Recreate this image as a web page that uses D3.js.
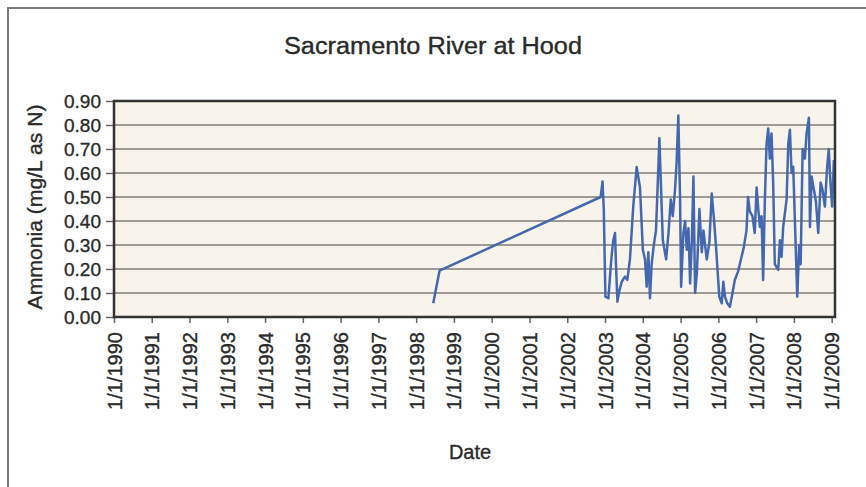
<!DOCTYPE html>
<html>
<head>
<meta charset="utf-8">
<script src="https://cdn.jsdelivr.net/npm/d3@7"></script>
<style>
  body { margin: 0; background: #fff; }
  text { font-family: "Liberation Sans", Arial, sans-serif; fill: #2a2a2a; stroke: #2a2a2a; stroke-width: 0.35px; }
</style>
</head>
<body>
<div class="chart"></div>
<script>
// ammonia readings
var dates = [
  "1998-06-15", "1998-08-15", "2002-11-20", "2002-12-08", "2002-12-20",
  "2003-01-05", "2003-02-03", "2003-02-20", "2003-03-05", "2003-03-22",
  "2003-04-08", "2003-04-17", "2003-05-01", "2003-05-20", "2003-06-12",
  "2003-07-13", "2003-08-05", "2003-08-30", "2003-10-01", "2003-11-03",
  "2003-12-05", "2004-01-02", "2004-01-23", "2004-02-08", "2004-02-24",
  "2004-03-11", "2004-03-27", "2004-04-19", "2004-05-08", "2004-05-31",
  "2004-06-10", "2004-06-24", "2004-07-13", "2004-08-14", "2004-09-06",
  "2004-09-28", "2004-10-17", "2004-11-08", "2004-11-24", "2004-12-10",
  "2004-12-27", "2005-01-06", "2005-01-28", "2005-02-14", "2005-03-02",
  "2005-03-18", "2005-04-03", "2005-04-20", "2005-05-05", "2005-05-21",
  "2005-06-07", "2005-07-02", "2005-07-25", "2005-08-10", "2005-09-11",
  "2005-10-06", "2005-10-29", "2005-11-21", "2005-12-10", "2005-12-22",
  "2006-01-10", "2006-02-03", "2006-02-18", "2006-03-06", "2006-03-28",
  "2006-04-22", "2006-05-18", "2006-06-09", "2006-07-11", "2006-08-13",
  "2006-09-04", "2006-09-30", "2006-10-15", "2006-11-01", "2006-11-27",
  "2006-12-19", "2007-01-06", "2007-01-22", "2007-02-07", "2007-02-23",
  "2007-03-10", "2007-03-27", "2007-04-12", "2007-04-28", "2007-05-14",
  "2007-05-30", "2007-06-15", "2007-07-01", "2007-08-03", "2007-08-19",
  "2007-09-04", "2007-09-20", "2007-10-23", "2007-11-08", "2007-11-24",
  "2007-12-10", "2007-12-26", "2008-01-21", "2008-02-03", "2008-02-22",
  "2008-03-07", "2008-03-26", "2008-04-17", "2008-05-03", "2008-05-26",
  "2008-06-05", "2008-06-21", "2008-07-13", "2008-08-02", "2008-08-24",
  "2008-09-16", "2008-10-05", "2008-10-27", "2008-11-18", "2008-12-04",
  "2008-12-20", "2009-01-06", "2009-01-22"
];
var ammonia = [
  0.057, 0.193, 0.50, 0.565, 0.45,
  0.085, 0.078, 0.18, 0.25, 0.32,
  0.35, 0.22, 0.064, 0.11, 0.147,
  0.168, 0.155, 0.24, 0.46, 0.625,
  0.54, 0.28, 0.24, 0.126, 0.27,
  0.078, 0.22, 0.307, 0.36, 0.626,
  0.745, 0.56, 0.32, 0.24, 0.35,
  0.49, 0.42, 0.53, 0.65, 0.84,
  0.49, 0.126, 0.35, 0.40, 0.28,
  0.37, 0.14, 0.32, 0.585, 0.10,
  0.18, 0.45, 0.27, 0.36, 0.24,
  0.31, 0.515, 0.40, 0.29, 0.21,
  0.085, 0.057, 0.147, 0.085, 0.057,
  0.043, 0.10, 0.154, 0.19, 0.25,
  0.29, 0.36, 0.50, 0.44, 0.42,
  0.35, 0.54, 0.45, 0.375, 0.42,
  0.154, 0.49, 0.72, 0.785, 0.66,
  0.765, 0.56, 0.22, 0.196, 0.32,
  0.25, 0.375, 0.49, 0.72, 0.78,
  0.60, 0.626, 0.265, 0.085, 0.30,
  0.22, 0.70, 0.66, 0.765, 0.83,
  0.375, 0.585, 0.53, 0.48, 0.35,
  0.56, 0.53, 0.46, 0.625, 0.70,
  0.56, 0.46, 0.654
];
var yTicks = [0, 0.1, 0.2, 0.3, 0.4, 0.5, 0.6, 0.7, 0.8, 0.9];
var title = "Sacramento River at Hood";

var parse = d3.timeParse("%Y-%m-%d");
var dataset = [];
for (var i = 0; i < dates.length; i++) {
  dataset.push({ date: parse(dates[i]), value: ammonia[i] });
}

var svgWidth = 866, svgHeight = 487;
var plot = { left: 114, top: 101, right: 835, bottom: 317 };

var svg = d3.select("div.chart")
  .append("svg")
  .attr("width", svgWidth)
  .attr("height", svgHeight);

// outer frame
svg.append("rect")
  .attr("x", 8).attr("y", 8)
  .attr("width", svgWidth).attr("height", svgHeight)
  .style("fill", "none")
  .style("stroke", "#7a7a7a")
  .style("stroke-width", 2);

var x = d3.scaleTime()
  .domain([new Date(1990, 0, 1), new Date(2009, 1, 2)])
  .range([plot.left, plot.right]);

var y = d3.scaleLinear()
  .domain([0, 0.9])
  .range([plot.bottom, plot.top]);

// plot background
svg.append("rect")
  .attr("x", plot.left).attr("y", plot.top)
  .attr("width", plot.right - plot.left)
  .attr("height", plot.bottom - plot.top)
  .style("fill", "#f8f4ec");

// gridlines
svg.append("g")
  .selectAll("line")
  .data(yTicks.slice(1, -1))
  .enter()
  .append("line")
  .attr("x1", plot.left).attr("x2", plot.right)
  .attr("y1", function (d) { return y(d); })
  .attr("y2", function (d) { return y(d); })
  .style("stroke", "#807c78")
  .style("stroke-width", 1.5);

// y axis
var y_axis = d3.axisLeft(y)
  .tickValues(yTicks)
  .tickFormat(d3.format(".2f"))
  .tickSizeInner(8)
  .tickSizeOuter(0)
  .tickPadding(5);

var gy = svg.append("g")
  .attr("transform", "translate(" + plot.left + ",0)")
  .call(y_axis);
gy.select(".domain").remove();
gy.selectAll("line").style("stroke", "#666").style("stroke-width", 1.5);
gy.selectAll("text")
  .style("font-size", "19px")
  .attr("dy", "0.35em");

// x axis
var x_axis = d3.axisBottom(x)
  .ticks(d3.timeYear.every(1))
  .tickFormat(d3.timeFormat("1/1/%Y"))
  .tickSizeInner(6)
  .tickSizeOuter(0)
  .tickPadding(0);

var gx = svg.append("g")
  .attr("transform", "translate(0," + plot.bottom + ")")
  .call(x_axis);
gx.select(".domain").remove();
gx.selectAll("line").style("stroke", "#666").style("stroke-width", 1.5);
gx.selectAll("text")
  .style("font-size", "20px")
  .style("text-anchor", "end")
  .attr("textLength", 78)
  .attr("lengthAdjust", "spacingAndGlyphs")
  .attr("transform", "translate(7,15) rotate(-90)")
  .attr("x", 0).attr("y", 0).attr("dy", 0);

// data line
var line = d3.line()
  .x(function (d) { return x(d.date); })
  .y(function (d) { return y(d.value); });

svg.append("path")
  .datum(dataset)
  .attr("d", line)
  .style("fill", "none")
  .style("stroke", "#4468b0")
  .style("stroke-width", 2.5)
  .style("stroke-linejoin", "round");

// plot border
svg.append("rect")
  .attr("x", plot.left).attr("y", plot.top)
  .attr("width", plot.right - plot.left)
  .attr("height", plot.bottom - plot.top)
  .style("fill", "none")
  .style("stroke", "#333")
  .style("stroke-width", 2.5);

// titles
svg.append("text")
  .attr("x", 433).attr("y", 54)
  .attr("text-anchor", "middle")
  .attr("textLength", 298)
  .attr("lengthAdjust", "spacingAndGlyphs")
  .style("font-size", "23px")
  .text(title);

svg.append("text")
  .attr("x", 470).attr("y", 459)
  .attr("text-anchor", "middle")
  .style("font-size", "20px")
  .text("Date");

svg.append("text")
  .attr("transform", "translate(42,207) rotate(-90)")
  .attr("text-anchor", "middle")
  .attr("textLength", 205)
  .attr("lengthAdjust", "spacingAndGlyphs")
  .style("font-size", "20px")
  .text("Ammonia (mg/L as N)");
</script>
</body>
</html>
